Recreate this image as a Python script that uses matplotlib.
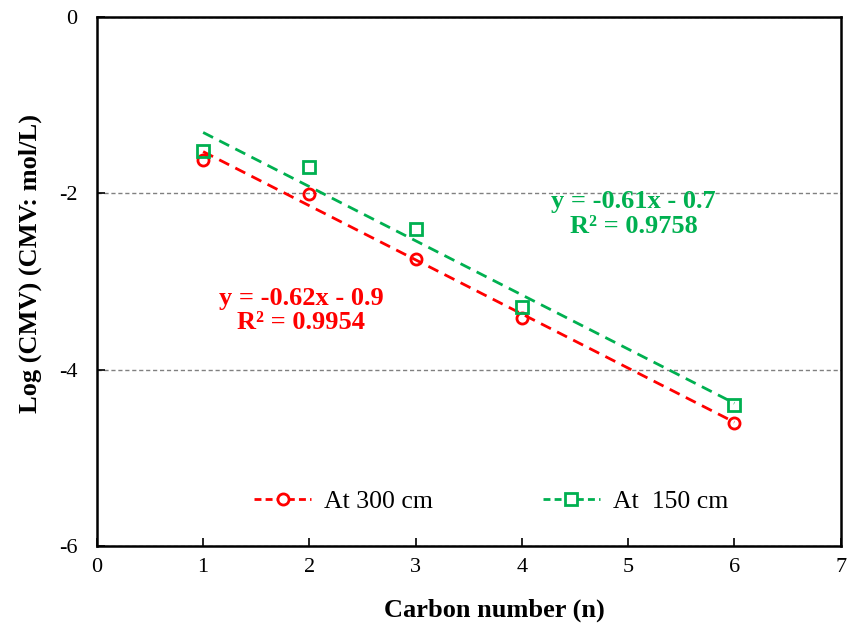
import matplotlib.pyplot as plt
import numpy as np

plt.rcParams['font.family'] = ['Liberation Serif', 'DejaVu Serif']
plt.rcParams['axes.unicode_minus'] = False

# data
carbon_n = [1, 2, 3, 4, 6]
log_cmv_300 = [-1.62, -2.01, -2.75, -3.41, -4.60]
log_cmv_150 = [-1.52, -1.70, -2.40, -3.29, -4.40]

red = '#FF0000'
green = '#00B050'

fig, ax = plt.subplots(figsize=(8.5, 6.24), dpi=100)
fig.subplots_adjust(left=0.114, right=0.989, top=0.973, bottom=0.125)

x = np.array(carbon_n)
xfit = np.array([min(carbon_n), max(carbon_n)])

# series + linear trendlines
for ys, color, marker, label in [(log_cmv_300, red, 'o', 'At 300 cm'),
                                 (log_cmv_150, green, 's', 'At  150 cm')]:
    k, b = np.polyfit(x, ys, 1)
    ax.plot(xfit, k * xfit + b, color=color, lw=2, dashes=(4, 2.5), zorder=2)
    ax.plot(x, ys, linestyle='none', marker=marker, ms=8, mfc='none',
            mec=color, mew=2, zorder=3)
    # legend proxy
    ax.plot([], [], color=color, lw=2, dashes=(2.5, 1.5), marker=marker,
            ms=8, mfc='white', mec=color, mew=2, label=label)

ax.text(1.92, -3.33, 'y = -0.62x - 0.9\nR² = 0.9954', color=red, fontsize=19,
        fontweight='bold', ha='center', va='center', multialignment='center',
        linespacing=1.1)
ax.text(5.05, -2.24, 'y = -0.61x - 0.7\nR² = 0.9758', color=green, fontsize=19,
        fontweight='bold', ha='center', va='center', multialignment='center',
        linespacing=1.1)

ax.set_xlim(0, 7)
ax.set_ylim(-6, 0)
ax.set_xticks(range(0, 8))
ax.set_yticks([-6, -4, -2, 0])
ax.yaxis.grid(True, color='#808080', linestyle=(0, (3, 2)), lw=1)
ax.set_axisbelow(True)
ax.tick_params(direction='in', length=6, width=1.2, labelsize=16, pad=14)
ax.tick_params(axis='x', pad=9)
for s in ax.spines.values():
    s.set_linewidth(1.8)

ax.set_xlabel('Carbon number (n)', fontsize=19, fontweight='bold', labelpad=15)
ax.set_ylabel('Log (CMV) (CMV: mol/L)', fontsize=19, fontweight='bold', labelpad=12)
ax.xaxis.label.set_x(0.535)
ax.yaxis.label.set_y(0.534)

ax.legend(loc='center', bbox_to_anchor=(0.53, 0.085), ncol=2, frameon=False,
          fontsize=18.5, handlelength=2.2, columnspacing=4.3, handletextpad=0.5)

plt.savefig('out.png')
